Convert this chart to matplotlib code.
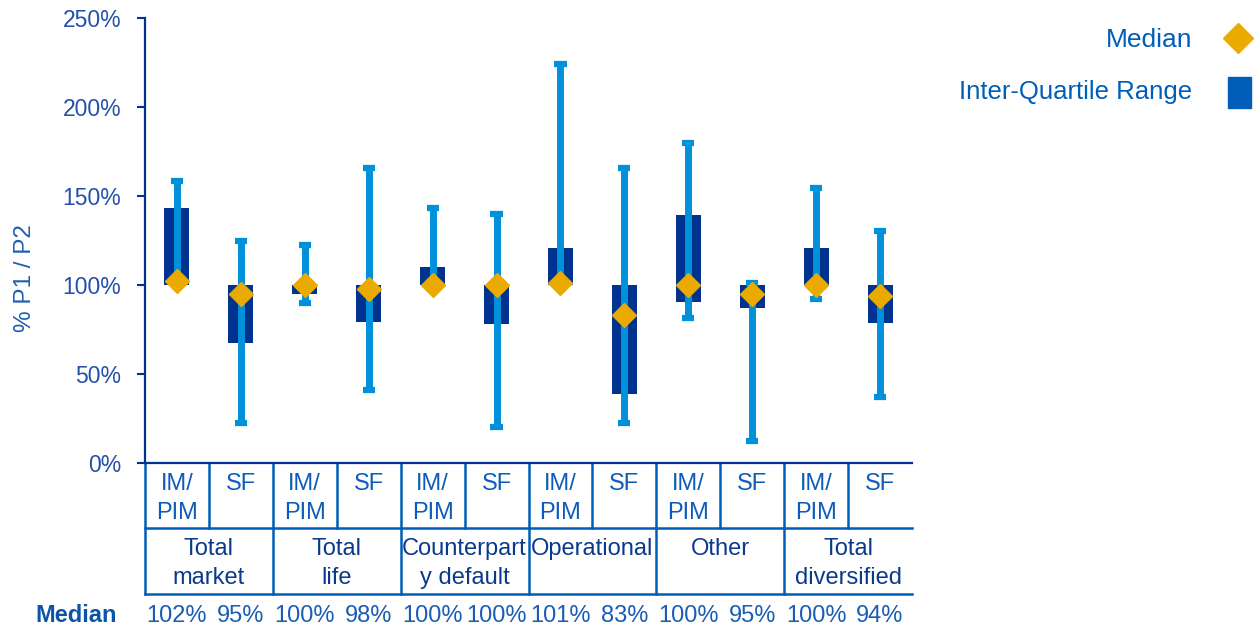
import matplotlib
matplotlib.use("Agg")
import matplotlib.pyplot as plt
from matplotlib.transforms import blended_transform_factory
from matplotlib.patches import Rectangle
from matplotlib.lines import Line2D

plt.rcParams['font.family'] = ['Liberation Sans', 'DejaVu Sans']

# ---- data ----
groups = ["Total\nmarket", "Total\nlife", "Counterpart\ny default", "Operational", "Other", "Total\ndiversified"]
subcats = ["IM/\nPIM", "SF"] * 6
whisk_lo = [100, 22.5, 90, 41, 100, 20, 100, 22.5, 81.5, 12.5, 92, 37]
q1 = [100, 67.5, 95, 79, 100, 78, 100, 39, 90.5, 87, 100, 78.5]
q3 = [143, 100, 100, 100, 110, 100, 121, 100, 139.5, 100, 121, 100]
whisk_hi = [158.5, 124.5, 122.5, 166, 143, 140, 224, 166, 180, 101, 154.5, 130.5]
medians = [102, 95, 100, 98, 100, 100, 101, 83, 100, 95, 100, 94]
median_labels = ["102%", "95%", "100%", "98%", "100%", "100%", "101%", "83%", "100%", "95%", "100%", "94%"]
yticks = [0, 50, 100, 150, 200, 250]

NAVY = '#00338D'
LIGHT = '#0091DA'
GOLD = '#EAAA00'
MID = '#005EB8'
TICKC = '#2350A8'

W, H = 1256, 625
fig = plt.figure(figsize=(W / 100, H / 100), dpi=100)
left, right, top, bottom = 145, 912, 18, 463
ax = fig.add_axes([left / W, 1 - bottom / H, (right - left) / W, (bottom - top) / H])

x = list(range(12))
ax.bar(x, [h - l for h, l in zip(q3, q1)], bottom=q1, width=0.39, color=NAVY, zorder=2)
ax.vlines(x, whisk_lo, whisk_hi, color=LIGHT, lw=5, zorder=3)
ax.hlines(whisk_hi, [i - 0.095 for i in x], [i + 0.095 for i in x], color=LIGHT, lw=4.5, zorder=3)
ax.hlines(whisk_lo, [i - 0.095 for i in x], [i + 0.095 for i in x], color=LIGHT, lw=4.5, zorder=3)
ax.plot(x, medians, linestyle='none', marker='D', ms=12.7, color=GOLD, mec=GOLD, zorder=4)

ax.set_xlim(-0.5, 11.5)
ax.set_ylim(0, 250)
ax.set_yticks(yticks)
ax.set_yticklabels([f"{t}%" for t in yticks], fontsize=16.5, color=TICKC)
ax.tick_params(axis='y', length=6, width=1.5, color=NAVY, pad=11)
ax.set_xticks([])
for s in ['top', 'right']:
    ax.spines[s].set_visible(False)
ax.spines['left'].set_color(NAVY)
ax.spines['left'].set_linewidth(1.6)
ax.spines['bottom'].set_color(NAVY)
ax.spines['bottom'].set_linewidth(1.6)

# ---- table below ----
tr = blended_transform_factory(ax.transData, ax.transAxes)
def yf(px):
    return (bottom - px) / (bottom - top)

row1, row2 = 528, 594
for ypx in (row1, row2):
    ax.add_line(Line2D([-0.5, 11.5], [yf(ypx)] * 2, transform=tr, color=MID, lw=1.8, clip_on=False))
# group boundaries
for b in [-0.5, 1.5, 3.5, 5.5, 7.5, 9.5]:
    ax.add_line(Line2D([b, b], [0, yf(row2)], transform=tr, color=MID, lw=1.8, clip_on=False))
for b in [0.5, 2.5, 4.5, 6.5, 8.5, 10.5]:
    ax.add_line(Line2D([b, b], [0, yf(row1)], transform=tr, color=MID, lw=1.8, clip_on=False))

for i, s in enumerate(subcats):
    ax.text(i, yf(472.5), s, transform=tr, ha='center', va='top', fontsize=17,
            color='#0F5CB8', linespacing=1.45, clip_on=False)
for g, name in enumerate(groups):
    ax.text(2 * g + 0.5, yf(538), name, transform=tr, ha='center', va='top', fontsize=17,
            color='#0B3A8C', linespacing=1.42, clip_on=False)
for i, m in enumerate(median_labels):
    ax.text(i, yf(615.5), m, transform=tr, ha='center', va='center', fontsize=17,
            color='#1A5DB5', clip_on=False)
fig.text(76 / W, 1 - 615.5 / H, "Median", ha='center', va='center', fontsize=17,
         fontweight='bold', color='#0B54A8')

# ---- y label ----
fig.text(25 / W, 1 - 278 / H, "% P1 / P2", rotation=90, ha='center', va='center',
         fontsize=17.5, color='#1F5FB0')

# ---- legend ----
fig.text(1192 / W, 1 - 40 / H, "Median", ha='right', va='center', fontsize=19, color=MID)
fig.text(1192 / W, 1 - 92 / H, "Inter-Quartile Range", ha='right', va='center', fontsize=18.5, color=MID)
fig.add_artist(Line2D([1238 / W], [1 - 38 / H], marker='D', ms=15.3, color=GOLD, mec=GOLD,
                      linestyle='none', transform=fig.transFigure))
fig.add_artist(Rectangle(((1240 - 12) / W, 1 - (92 + 15.5) / H), 23 / W, 31 / H,
                         transform=fig.transFigure, color=MID))

fig.savefig("out.png", dpi=100)
